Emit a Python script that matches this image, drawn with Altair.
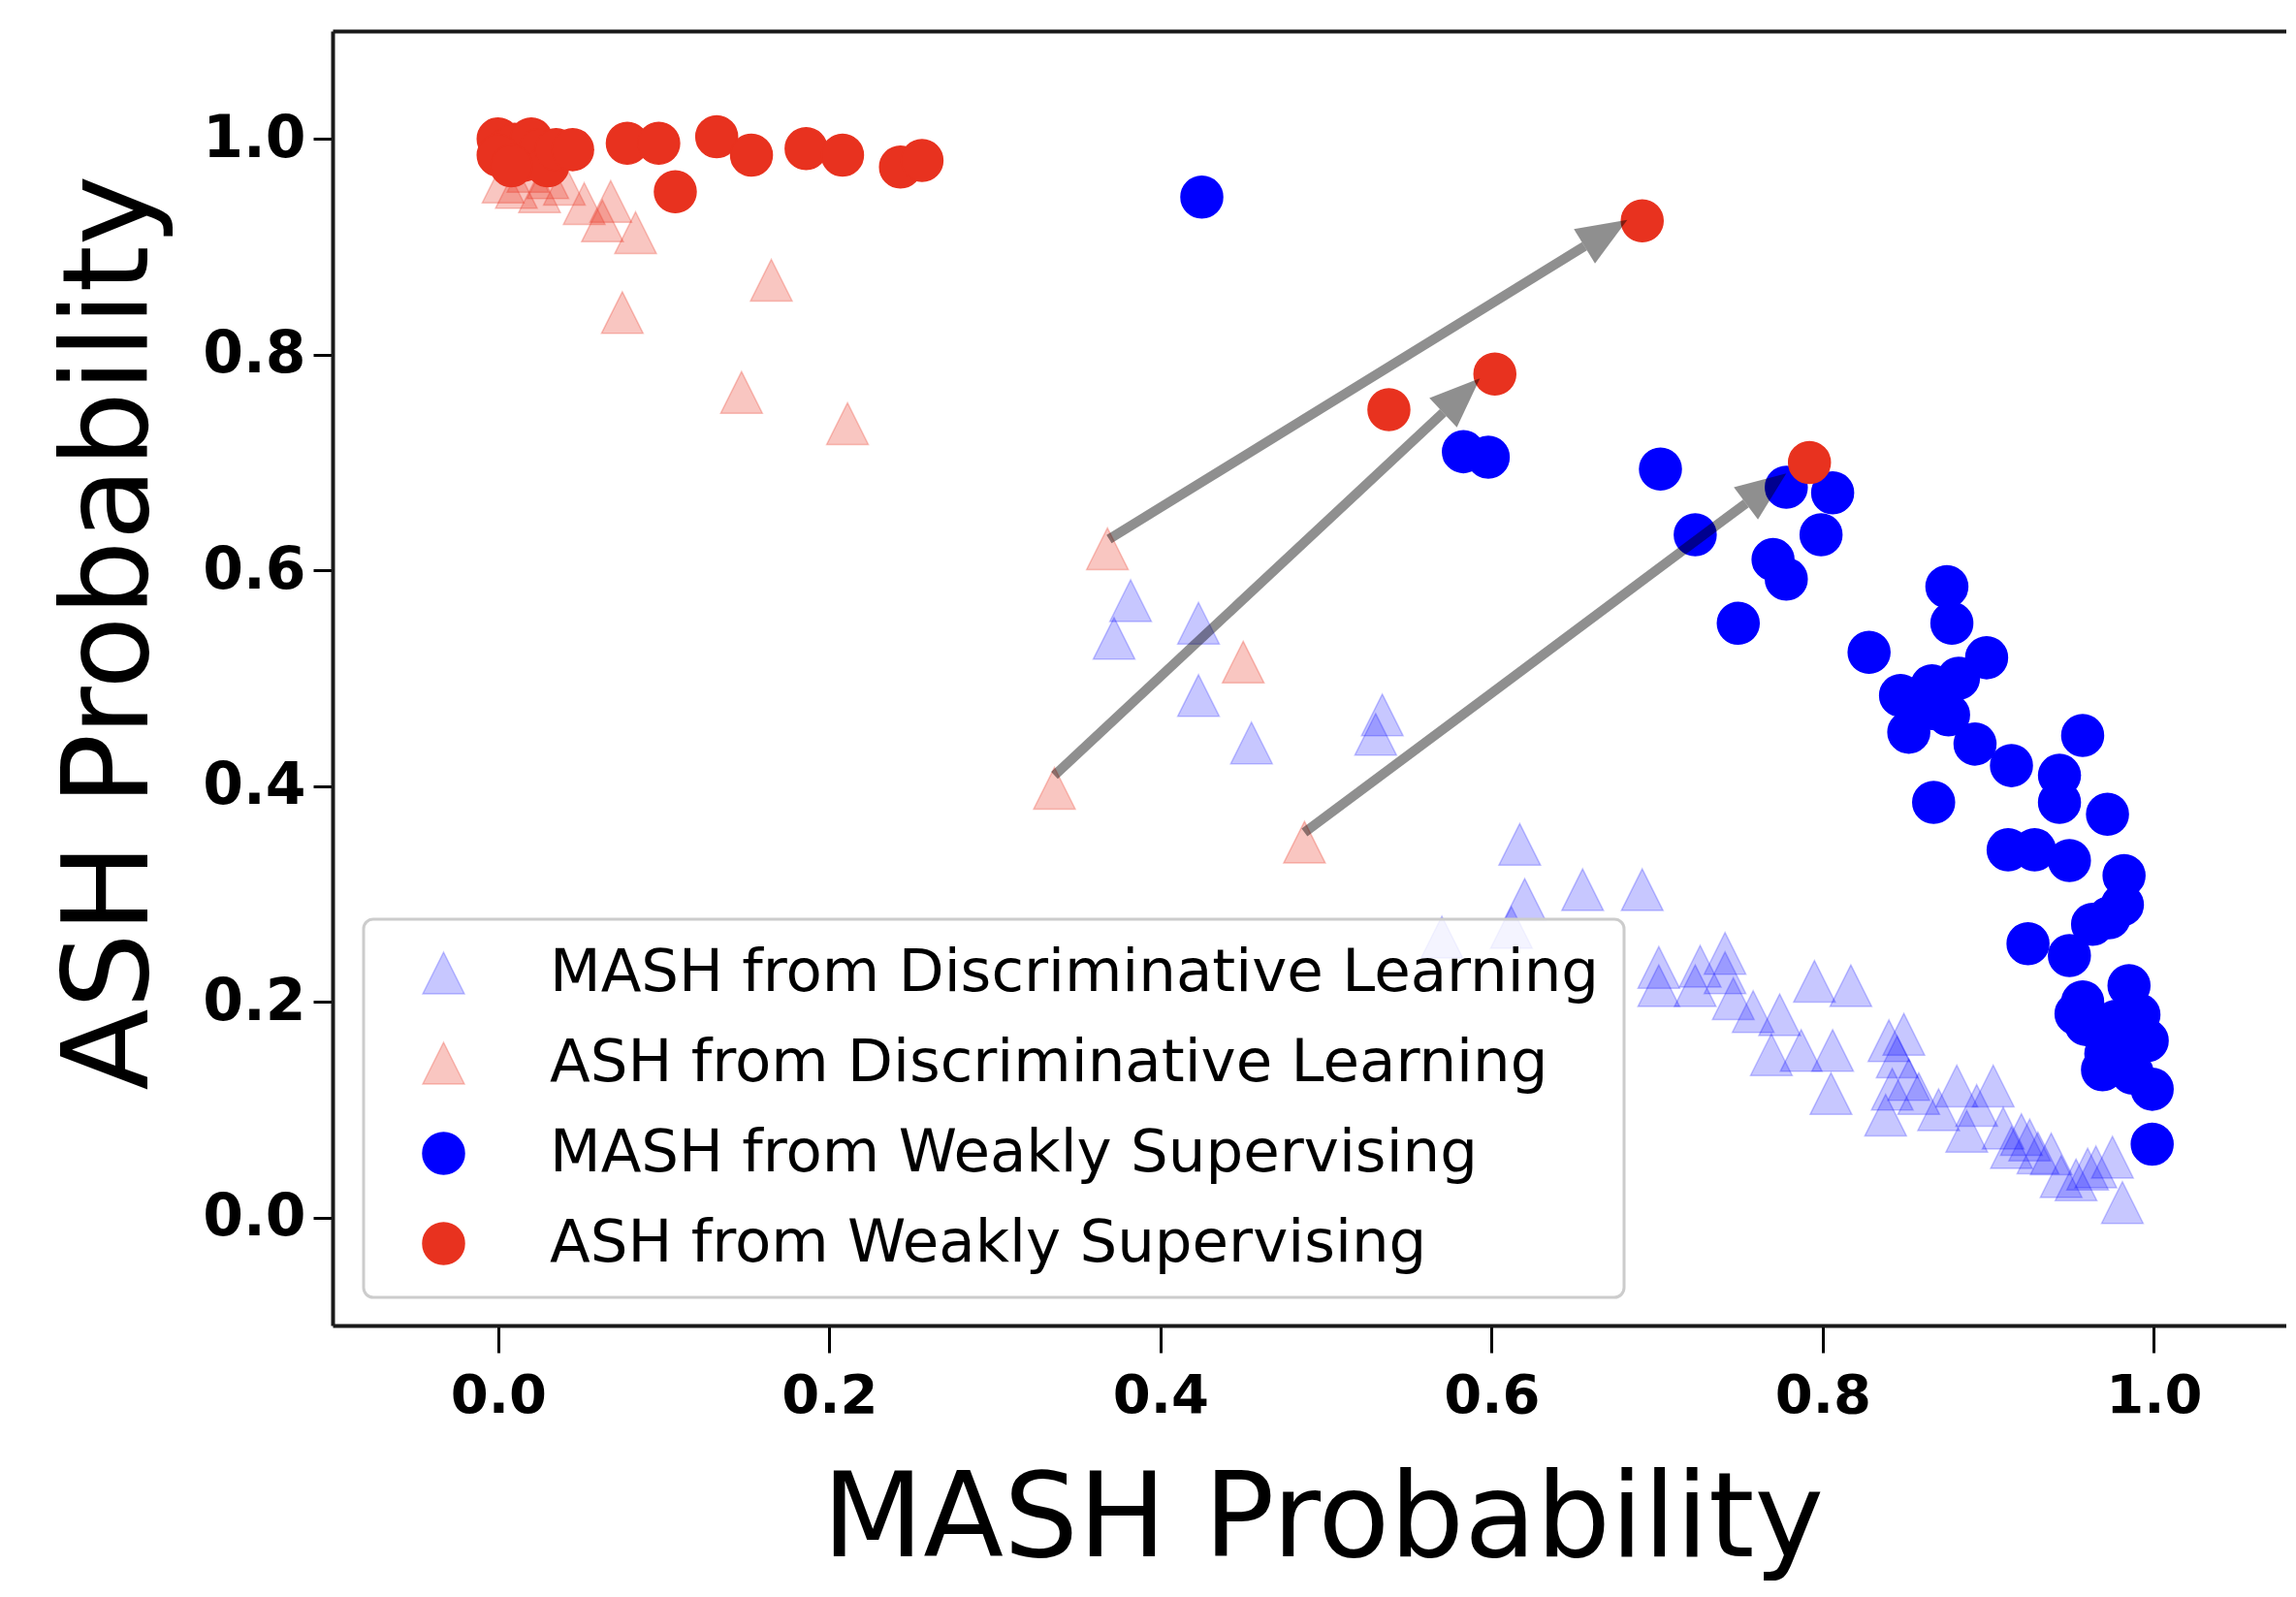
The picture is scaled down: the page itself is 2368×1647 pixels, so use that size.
import math
import altair as alt
import pandas as pd

SERIES = [
    "MASH from Discriminative Learning",
    "ASH from Discriminative Learning",
    "MASH from Weakly Supervising",
    "ASH from Weakly Supervising",
]

# MASH from Discriminative Learning (blue triangles)
bt_x = [0.382, 0.372, 0.423, 0.423, 0.455, 0.534, 0.530, 0.617, 0.620, 0.655,
        0.691, 0.570, 0.612, 0.701, 0.701, 0.723, 0.726, 0.741, 0.741, 0.746,
        0.758, 0.774, 0.795, 0.817, 0.769, 0.787, 0.806, 0.805, 0.840, 0.838,
        0.849, 0.845, 0.852, 0.842, 0.881, 0.903, 0.893, 0.887, 0.909, 0.920,
        0.914, 0.938, 0.944, 0.953, 0.965, 0.975, 0.981, 0.858, 0.870, 0.925,
        0.930, 0.960]
bt_y = [0.572, 0.537, 0.551, 0.484, 0.440, 0.466, 0.448, 0.346, 0.295, 0.304,
        0.304, 0.260, 0.269, 0.232, 0.215, 0.215, 0.233, 0.245, 0.227, 0.203,
        0.191, 0.188, 0.219, 0.215, 0.151, 0.155, 0.155, 0.115, 0.164, 0.095,
        0.170, 0.149, 0.128, 0.119, 0.122, 0.122, 0.104, 0.080, 0.083, 0.077,
        0.065, 0.059, 0.038, 0.035, 0.047, 0.056, 0.014, 0.115, 0.100, 0.072,
        0.060, 0.045]

# ASH from Discriminative Learning (red triangles)
rt_x = [0.003, 0.011, 0.025, 0.030, 0.018, 0.040, 0.052, 0.068, 0.063, 0.083,
        0.165, 0.075, 0.147, 0.211, 0.368, 0.336, 0.487, 0.450]
rt_y = [0.960, 0.955, 0.951, 0.964, 0.970, 0.958, 0.940, 0.942, 0.924, 0.913,
        0.869, 0.839, 0.765, 0.736, 0.620, 0.398, 0.348, 0.515]

# MASH from Weakly Supervising (blue circles)
bc_x = [0.425, 0.583, 0.598, 0.702, 0.778, 0.806, 0.723, 0.799, 0.770, 0.778,
        0.749, 0.875, 0.878, 0.828, 0.847, 0.866, 0.899, 0.882, 0.852, 0.876,
        0.892, 0.866, 0.957, 0.914, 0.943, 0.943, 0.867, 0.972, 0.912, 0.928,
        0.949, 0.982, 0.981, 0.963, 0.973, 0.924, 0.949, 0.985, 0.957, 0.991,
        0.959, 0.977, 0.996, 0.971, 0.969, 0.987, 0.999, 0.982, 0.953, 0.999]
bc_y = [0.946, 0.710, 0.705, 0.694, 0.677, 0.672, 0.633, 0.633, 0.610, 0.592,
        0.551, 0.585, 0.551, 0.524, 0.484, 0.493, 0.519, 0.500, 0.450, 0.466,
        0.439, 0.472, 0.447, 0.419, 0.410, 0.385, 0.385, 0.374, 0.341, 0.341,
        0.331, 0.317, 0.290, 0.272, 0.278, 0.254, 0.243, 0.215, 0.200, 0.188,
        0.179, 0.182, 0.164, 0.152, 0.137, 0.134, 0.119, 0.146, 0.189, 0.068]

# ASH from Weakly Supervising (red circles)
rc_x = [0.000, 0.005, 0.010, 0.015, 0.020, 0.025, 0.030, 0.035, 0.045, 0.000,
        0.008, 0.078, 0.097, 0.132, 0.153, 0.186, 0.208, 0.243, 0.256, 0.107,
        0.538, 0.602, 0.691, 0.792]
rc_y = [1.000, 0.990, 0.995, 0.980, 1.000, 0.990, 0.975, 0.990, 0.990, 0.985,
        0.975, 0.996, 0.996, 1.002, 0.985, 0.991, 0.985, 0.974, 0.980, 0.951,
        0.749, 0.782, 0.924, 0.700]

# arrows: from a discriminative ASH triangle to the weakly-supervised ASH circle
arrow_x0 = [0.369, 0.336, 0.487]
arrow_y0 = [0.629, 0.410, 0.357]
arrow_x1 = [0.682, 0.593, 0.778]
arrow_y1 = [0.925, 0.778, 0.690]

TICKS = [0.0, 0.2, 0.4, 0.6, 0.8, 1.0]

W, H = 2015, 1335
XDOM = [-0.1, 1.08]
YDOM = [-0.1, 1.1]
SX = W / (XDOM[1] - XDOM[0])
SY = H / (YDOM[1] - YDOM[0])
HEAD_LEN = 52.0

rows = []
for name, xs_, ys_ in [(SERIES[0], bt_x, bt_y), (SERIES[1], rt_x, rt_y),
                       (SERIES[2], bc_x, bc_y), (SERIES[3], rc_x, rc_y)]:
    for a, b in zip(xs_, ys_):
        rows.append({"x": a, "y": b, "series": name})
pts = pd.DataFrame(rows)
pts["idx"] = range(len(pts))

shaft_rows, head_rows = [], []
for x0, y0, x1, y1 in zip(arrow_x0, arrow_y0, arrow_x1, arrow_y1):
    dx, dy = x1 - x0, y1 - y0
    L = math.hypot(dx * SX, dy * SY)
    ex, ey = x1 - dx * HEAD_LEN / L, y1 - dy * HEAD_LEN / L
    ang = math.degrees(math.atan2(dx * SX, dy * SY)) % 360
    shaft_rows.append({"x": x0, "y": y0, "ex": ex, "ey": ey})
    head_rows.append({"x": x1, "y": y1, "ang": ang})
shafts_df = pd.DataFrame(shaft_rows)
heads_df = pd.DataFrame(head_rows)

TRI = "M0,-1L1,1L-1,1Z"
HEAD = "M0,0L0.8,2L-0.8,2Z"
FILLS = ["rgba(0,0,255,0.22)", "rgba(232,50,31,0.28)", "#0000ff", "#e8321f"]

xs = alt.Scale(domain=XDOM, nice=False, zero=False)
ys = alt.Scale(domain=YDOM, nice=False, zero=False)

xaxis = alt.Axis(values=TICKS, format=".1f", title="MASH Probability",
                 titleFont="DejaVu Sans", titleFontSize=121, titleFontWeight="normal",
                 titleColor="black", titleX=1021, titleY=237, titleBaseline="alphabetic",
                 titleAlign="center",
                 labelFont="DejaVu Sans", labelFontSize=56, labelFontWeight="bold",
                 labelColor="black", labelPadding=17, labelFlush=False, labelOverlap=False,
                 tickSize=28, tickWidth=3, tickColor="black",
                 domainColor="#1a1a1a", domainWidth=4, grid=False)
yaxis = alt.Axis(values=TICKS, format=".1f", title="ASH Probability",
                 titleFont="DejaVu Sans", titleFontSize=123, titleFontWeight="normal",
                 titleColor="black", titleAngle=270, titleX=-192, titleY=620,
                 titleBaseline="alphabetic", titleAlign="center",
                 labelFont="DejaVu Sans", labelFontSize=60, labelFontWeight="bold",
                 labelColor="black", labelPadding=8, labelFlush=False, labelOverlap=False,
                 tickSize=20, tickWidth=3, tickColor="black",
                 domainColor="#1a1a1a", domainWidth=4, grid=False)

leg = alt.Legend(title=None, orient="none", legendX=32, legendY=916, padding=25,
                 symbolOffset=27, labelOffset=79, rowPadding=31,
                 labelFont="DejaVu Sans", labelFontSize=61, labelColor="black",
                 labelLimit=3000, symbolSize=1850, symbolStrokeWidth=1.5,
                 symbolOpacity=1,
                 fillColor="rgba(255,255,255,0.8)", strokeColor="#cccccc",
                 cornerRadius=10)

points = alt.Chart(pts).mark_point(filled=True, size=1850, strokeWidth=1.5, opacity=1).encode(
    x=alt.X("x:Q", scale=xs, axis=xaxis),
    y=alt.Y("y:Q", scale=ys, axis=yaxis),
    fill=alt.Fill("series:N", scale=alt.Scale(domain=SERIES, range=FILLS), legend=leg),
    stroke=alt.Stroke("series:N", scale=alt.Scale(domain=SERIES, range=FILLS), legend=leg),
    shape=alt.Shape("series:N", scale=alt.Scale(domain=SERIES, range=[TRI, TRI, "circle", "circle"]),
                    legend=leg),
    order=alt.Order("idx:Q"),
)

shafts = alt.Chart(shafts_df).mark_rule(color="black", opacity=0.44, strokeWidth=10,
                                        strokeCap="butt").encode(
    x=alt.X("x:Q", scale=xs, axis=None),
    y=alt.Y("y:Q", scale=ys, axis=yaxis),
    x2="ex:Q",
    y2="ey:Q",
)

heads = alt.Chart(heads_df).mark_point(shape=HEAD, size=2700, filled=True, fill="black",
                                       opacity=1, fillOpacity=0.44, strokeWidth=0).encode(
    x=alt.X("x:Q", scale=xs,
            axis=alt.Axis(orient="top", labels=False, ticks=False, title=None, grid=False,
                          domainColor="#1a1a1a", domainWidth=4)),
    y=alt.Y("y:Q", scale=ys, axis=yaxis),
    angle=alt.Angle("ang:Q", scale=None),
)

chart = alt.layer(points, shafts, heads).resolve_axis(x="independent").properties(
    width=W, height=H,
    autosize=alt.AutoSizeParams(type="none"),
    padding={"left": 335, "top": 24, "right": 0, "bottom": 266},
).configure_view(stroke=None).configure_legend(strokeWidth=3)

chart.save("out.html", embed_options={"renderer": "svg", "actions": False})
